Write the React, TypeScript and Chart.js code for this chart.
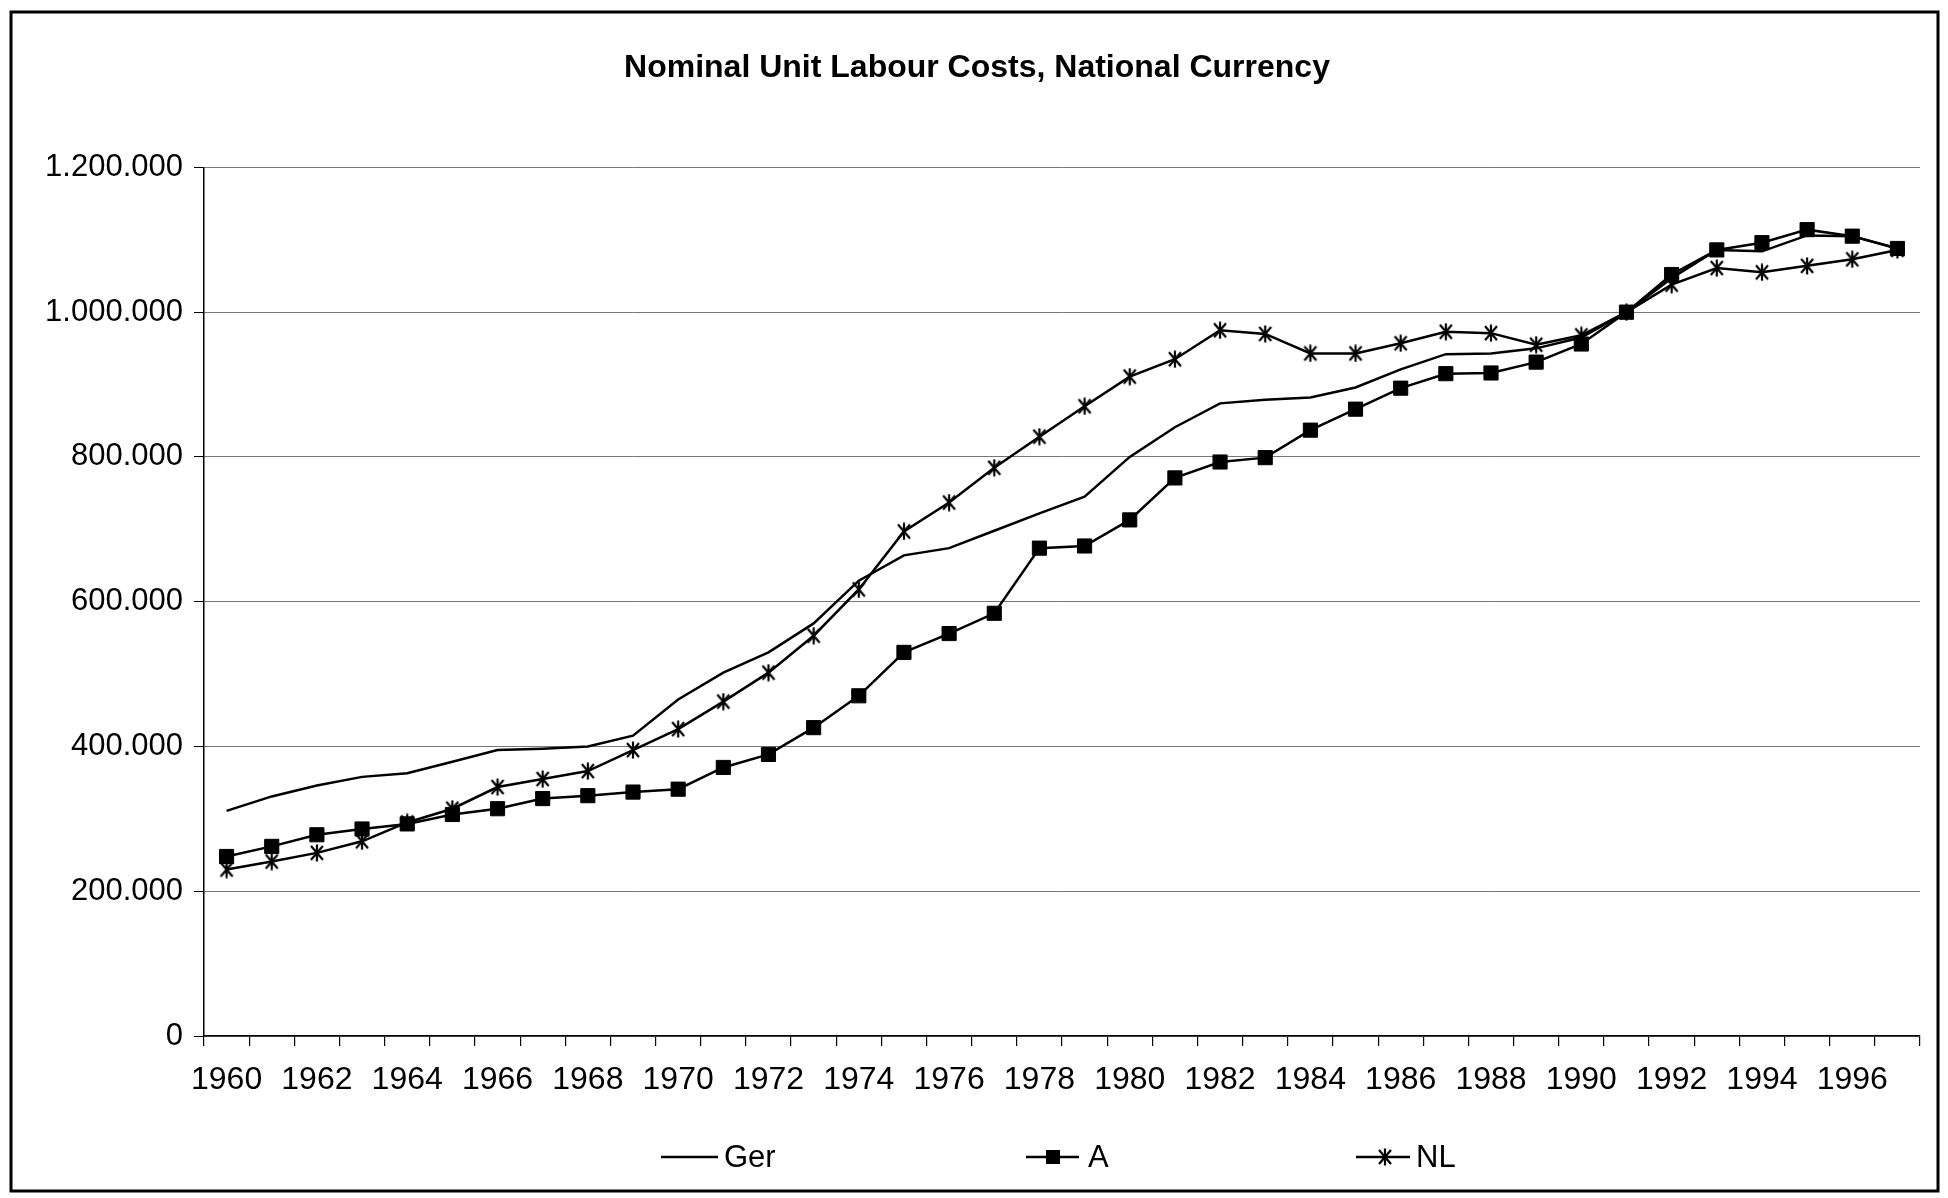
import React, { useEffect, useRef } from 'react';
import { Chart, registerables } from 'chart.js';

Chart.register(...registerables);

// ---------- data ----------
const years = [
  '1960', '1961', '1962', '1963', '1964', '1965', '1966', '1967', '1968', '1969',
  '1970', '1971', '1972', '1973', '1974', '1975', '1976', '1977', '1978', '1979',
  '1980', '1981', '1982', '1983', '1984', '1985', '1986', '1987', '1988', '1989',
  '1990', '1991', '1992', '1993', '1994', '1995', '1996', '1997',
];

const gerValues = [
  311000, 331000, 346000, 358000, 363000, 379000, 395000, 397000, 400000, 415000,
  465000, 502000, 530000, 570000, 629000, 664000, 674000, 698000, 722000, 745000,
  800000, 841000, 874000, 879000, 882000, 896000, 921000, 942000, 943000, 950000,
  965000, 1000000, 1047000, 1086000, 1084000, 1106000, 1105000, 1088000,
];

const aValues = [
  248000, 262000, 278000, 286000, 293000, 306000, 314000, 328000, 332000, 337000,
  341000, 371000, 389000, 426000, 470000, 530000, 556000, 584000, 674000, 677000,
  713000, 771000, 793000, 799000, 837000, 866000, 895000, 915000, 916000, 931000,
  956000, 1000000, 1052000, 1086000, 1096000, 1114000, 1105000, 1088000,
];

const nlValues = [
  230000, 241000, 253000, 269000, 295000, 314000, 344000, 355000, 366000, 395000,
  424000, 462000, 502000, 553000, 617000, 697000, 737000, 785000, 828000, 870000,
  911000, 935000, 975000, 970000, 943000, 943000, 957000, 973000, 971000, 955000,
  968000, 1000000, 1038000, 1061000, 1055000, 1064000, 1073000, 1086000,
];

const seriesNames = ['Ger', 'A', 'NL'];
const chartTitle = 'Nominal Unit Labour Costs, National Currency';

const yMin = 0;
const yMax = 1200000;
const yStep = 200000;

// ---------- styling ----------
const FONT = "'Liberation Sans', Arial, Helvetica, sans-serif";

function formatThousands(v: number): string {
  return String(Math.round(v)).replace(/\B(?=(\d{3})+(?!\d))/g, '.');
}

function makeStar(): HTMLCanvasElement {
  const c = document.createElement('canvas');
  c.width = 16;
  c.height = 18;
  const g = c.getContext('2d')!;
  g.strokeStyle = '#000';
  g.lineWidth = 2.2;
  g.beginPath();
  g.moveTo(2, 2);
  g.lineTo(14, 16);
  g.moveTo(14, 2);
  g.lineTo(2, 16);
  g.moveTo(8, 0.5);
  g.lineTo(8, 17.5);
  g.stroke();
  return c;
}

export default function App() {
  const canvasRef = useRef<HTMLCanvasElement | null>(null);

  useEffect(() => {
    const canvas = canvasRef.current;
    if (!canvas) return;
    const star = makeStar();

    const framePlugin = {
      id: 'frame',
      beforeDraw(chart: any) {
        const ctx = chart.ctx;
        ctx.save();
        ctx.fillStyle = '#fff';
        ctx.fillRect(0, 0, chart.width, chart.height);
        ctx.restore();
      },
      afterDraw(chart: any) {
        const ctx = chart.ctx;
        ctx.save();
        ctx.strokeStyle = '#000';
        ctx.lineWidth = 3;
        ctx.strokeRect(11, 12, 1927, 1179);
        ctx.restore();
      },
    };

    const legendPlugin = {
      id: 'customLegend',
      afterDraw(chart: any) {
        const ctx = chart.ctx;
        const y = 1157;
        ctx.save();
        ctx.strokeStyle = '#000';
        ctx.fillStyle = '#000';
        ctx.lineWidth = 2.5;
        ctx.font = `31px ${FONT}`;
        ctx.textBaseline = 'middle';
        ctx.textAlign = 'left';
        // Ger
        ctx.beginPath();
        ctx.moveTo(661, y);
        ctx.lineTo(718, y);
        ctx.stroke();
        ctx.fillText(seriesNames[0], 724, y + 1);
        // A
        ctx.beginPath();
        ctx.moveTo(1026, y);
        ctx.lineTo(1079, y);
        ctx.stroke();
        ctx.fillRect(1053 - 7, y - 7, 14, 14);
        ctx.fillText(seriesNames[1], 1088, y + 1);
        // NL
        ctx.beginPath();
        ctx.moveTo(1356, y);
        ctx.lineTo(1410, y);
        ctx.stroke();
        ctx.drawImage(star, 1385 - star.width / 2, y - star.height / 2);
        ctx.fillText(seriesNames[2], 1416, y + 1);
        ctx.restore();
      },
    };

    const chart = new Chart(canvas, {
      type: 'line',
      data: {
        labels: years,
        datasets: [
          {
            label: seriesNames[0],
            data: gerValues,
            borderColor: '#000',
            backgroundColor: '#000',
            borderWidth: 2.5,
            pointRadius: 0,
            tension: 0,
          },
          {
            label: seriesNames[1],
            data: aValues,
            borderColor: '#000',
            backgroundColor: '#000',
            borderWidth: 2.5,
            pointStyle: 'rect',
            pointRadius: 10,
            pointBorderWidth: 1,
            pointBackgroundColor: '#000',
            pointBorderColor: '#000',
            tension: 0,
          },
          {
            label: seriesNames[2],
            data: nlValues,
            borderColor: '#000',
            backgroundColor: '#000',
            borderWidth: 2.5,
            pointStyle: star as any,
            pointRadius: 8,
            tension: 0,
          },
        ],
      },
      options: {
        animation: false,
        responsive: false,
        maintainAspectRatio: false,
        events: [],
        layout: { padding: { left: 34, right: 28, top: 0, bottom: 98 } },
        plugins: {
          legend: { display: false },
          tooltip: { enabled: false },
          title: {
            display: true,
            text: chartTitle,
            color: '#000',
            font: { family: FONT, size: 32, weight: 'bold' },
            padding: { top: 49, bottom: 80 },
          },
        },
        scales: {
          x: {
            type: 'category',
            offset: true,
            grid: {
              display: true,
              offset: true,
              drawOnChartArea: false,
              drawTicks: true,
              tickLength: 10,
              tickColor: '#000',
              lineWidth: 1.2,
            },
            border: { display: true, color: '#000', width: 1.5 },
            ticks: {
              autoSkip: false,
              maxRotation: 0,
              minRotation: 0,
              padding: 15,
              color: '#000',
              font: { family: FONT, size: 32 },
              callback: (_v: any, i: number) => (i % 2 === 0 ? years[i] : ''),
            },
            afterFit: (scale: any) => {
              scale.height = 64;
            },
          },
          y: {
            min: yMin,
            max: yMax,
            grid: {
              color: '#777',
              lineWidth: 1,
              drawTicks: true,
              tickLength: 10,
              tickColor: '#000',
            },
            border: { display: true, color: '#000', width: 1.5 },
            ticks: {
              stepSize: yStep,
              padding: 11,
              color: '#000',
              font: { family: FONT, size: 31 },
              callback: (v: any) => formatThousands(Number(v)),
            },
            afterFit: (scale: any) => {
              scale.width = 170;
            },
          },
        },
      },
      plugins: [framePlugin, legendPlugin],
    });

    return () => {
      chart.destroy();
    };
  }, []);

  return (
    <div
      style={{
        position: 'fixed',
        left: 0,
        top: 0,
        width: 1948,
        height: 1198,
        background: '#fff',
      }}
    >
      <canvas
        ref={canvasRef}
        width={1948}
        height={1198}
        style={{ display: 'block', width: 1948, height: 1198 }}
      />
    </div>
  );
}
